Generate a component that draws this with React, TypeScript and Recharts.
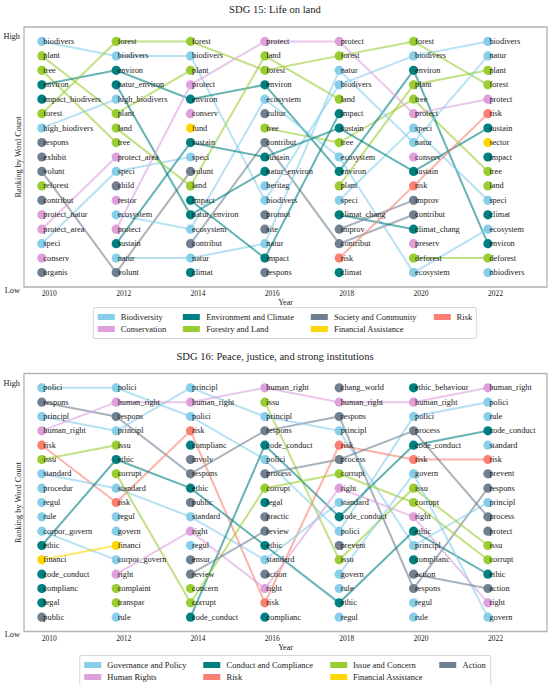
import { ScatterChart, Scatter, XAxis, YAxis, ReferenceArea } from "recharts";

const FONT = '"Liberation Serif", "Times New Roman", serif';

const YEARS = [2010, 2012, 2014, 2016, 2018, 2020, 2022];
const X_DOMAIN = [2009.52, 2023.59];
const RANK_TICKS = [0.68, 18];

// SDG 15
const SDG15_CATEGORIES = [
  "Biodiversity",
  "Conservation",
  "Environment and Climate",
  "Forestry and Land",
  "Society and Community",
  "Financial Assistance",
  "Risk",
];
const SDG15_COLORS = ["#87ceeb", "#dda0dd", "#008080", "#9acd32", "#708090", "#ffd700", "#fa8072"];
const SDG15_TERMS = [
  ["biodivers", "high_biodivers", "speci", "ecosystem", "natur", "heritag", "nbiodivers"],
  ["protect_natur", "protect_area", "conserv", "restor", "protect", "preserv"],
  ["environ", "impact_biodivers", "natur_environ", "sustain", "impact", "climat", "climat_chang"],
  ["plant", "tree", "forest", "reforest", "land", "deforest"],
  ["respons", "exhibit", "volunt", "contribut", "organis", "child", "cultur", "promot", "site", "improv"],
  ["fund", "sector"],
  ["risk"],
];
const SDG15_RANKING = [
  ["biodivers", "plant", "tree", "environ", "impact_biodivers", "forest", "high_biodivers", "respons", "exhibit", "volunt", "reforest", "contribut", "protect_natur", "protect_area", "speci", "conserv", "organis"],
  ["forest", "biodivers", "environ", "natur_environ", "high_biodivers", "plant", "land", "tree", "protect_area", "speci", "child", "restor", "ecosystem", "protect", "sustain", "natur", "volunt"],
  ["forest", "biodivers", "plant", "protect", "environ", "conserv", "fund", "sustain", "speci", "volunt", "land", "impact", "natur_environ", "ecosystem", "contribut", "natur", "climat"],
  ["protect", "land", "forest", "environ", "ecosystem", "cultur", "tree", "contribut", "sustain", "natur_environ", "heritag", "biodivers", "promot", "site", "natur", "impact", "respons"],
  ["protect", "forest", "natur", "biodivers", "land", "impact", "sustain", "tree", "ecosystem", "environ", "plant", "speci", "climat_chang", "improv", "contribut", "risk", "climat"],
  ["forest", "biodivers", "environ", "plant", "tree", "protect", "speci", "natur", "conserv", "sustain", "risk", "improv", "contribut", "climat_chang", "preserv", "deforest", "ecosystem"],
  ["biodivers", "natur", "plant", "forest", "protect", "risk", "sustain", "sector", "impact", "tree", "land", "speci", "climat", "ecosystem", "environ", "deforest", "nbiodivers"],
];
const SDG15_UNLINKED: string[] = [];

// SDG 16
const SDG16_CATEGORIES = [
  "Governance and Policy",
  "Human Rights",
  "Conduct and Compliance",
  "Risk",
  "Issue and Concern",
  "Financial Assistance",
  "Action",
];
const SDG16_COLORS = ["#87ceeb", "#dda0dd", "#008080", "#fa8072", "#9acd32", "#ffd700", "#708090"];
const SDG16_TERMS = [
  ["polici", "principl", "standard", "procedur", "regul", "rule", "corpor_govern", "govern"],
  ["human_right", "right"],
  ["ethic", "code_conduct", "complianc", "legal", "ethic_behaviour"],
  ["risk"],
  ["issu", "corrupt", "complaint", "transpar", "concern"],
  ["financi"],
  ["respons", "public", "involv", "ensur", "review", "process", "practic", "action", "chang_world", "prevent", "protect"],
];
const SDG16_RANKING = [
  ["polici", "respons", "principl", "human_right", "risk", "issu", "standard", "procedur", "regul", "rule", "corpor_govern", "ethic", "financi", "code_conduct", "complianc", "legal", "public"],
  ["polici", "human_right", "respons", "principl", "issu", "ethic", "corrupt", "standard", "risk", "regul", "govern", "financi", "corpor_govern", "right", "complaint", "transpar", "rule"],
  ["principl", "human_right", "polici", "risk", "complianc", "involv", "respons", "ethic", "public", "standard", "right", "regul", "ensur", "review", "concern", "corrupt", "code_conduct"],
  ["human_right", "issu", "principl", "respons", "code_conduct", "polici", "process", "corrupt", "legal", "practic", "review", "ethic", "standard", "action", "right", "risk", "complianc"],
  ["chang_world", "human_right", "respons", "principl", "risk", "process", "corrupt", "right", "standard", "code_conduct", "polici", "prevent", "issu", "govern", "rule", "ethic", "regul"],
  ["ethic_behaviour", "human_right", "polici", "process", "code_conduct", "risk", "govern", "issu", "corrupt", "right", "ethic", "principl", "complianc", "action", "respons", "regul", "rule"],
  ["human_right", "polici", "rule", "code_conduct", "standard", "risk", "prevent", "respons", "principl", "process", "protect", "issu", "corrupt", "ethic", "action", "right", "govern"],
];
const SDG16_UNLINKED = ["complianc", "regul", "rule"];

type Pt = { x: number; y: number; word?: string };

function buildDots(ranking: string[][], terms: string[][]) {
  return terms.map((list) => {
    const pts: Pt[] = [];
    ranking.forEach((col, i) =>
      col.forEach((word, r) => {
        if (list.includes(word)) pts.push({ x: YEARS[i], y: r + 1, word });
      })
    );
    return pts;
  });
}

function buildLinks(ranking: string[][], terms: string[][], unlinked: string[]) {
  const links: { word: string; ci: number; pts: Pt[] }[] = [];
  const words = Array.from(new Set(ranking.flat()));
  words.forEach((word) => {
    if (unlinked.includes(word)) return;
    const ci = terms.findIndex((l) => l.includes(word));
    let run: Pt[] = [];
    ranking.forEach((col, i) => {
      const r = col.indexOf(word);
      if (r >= 0) {
        run.push({ x: YEARS[i], y: r + 1 });
      } else {
        if (run.length > 1) links.push({ word, ci, pts: run });
        run = [];
      }
    });
    if (run.length > 1) links.push({ word, ci, pts: run });
  });
  return links;
}

const YearTick = (p: any) => (
  <text x={p.x + 7.5} y={p.y + 9} textAnchor="middle" fontSize={7.5} fontFamily={FONT} fill="#222">
    {p.payload.value}
  </text>
);

const RankTick = (p: any) => {
  const low = p.payload.value > 9;
  return (
    <text
      x={p.x - 4}
      y={p.y + (low ? 3 : 0)}
      textAnchor="end"
      dominantBaseline="central"
      fontSize={8.3}
      fontFamily={FONT}
      fill="#222"
    >
      {low ? "Low" : "High"}
    </text>
  );
};

const SideLabel = (p: any) => {
  const vb = p.viewBox;
  const x = vb.x + vb.width - 6;
  const y = vb.y + vb.height / 2;
  return (
    <text
      x={x}
      y={y}
      transform={`rotate(-90, ${x}, ${y})`}
      textAnchor="middle"
      dominantBaseline="central"
      fontSize={8.3}
      fontFamily={FONT}
      fill="#222"
    >
      Ranking by Word Count
    </text>
  );
};

const YearLabel = (p: any) => {
  const vb = p.viewBox;
  return (
    <text x={vb.x + vb.width / 2} y={vb.y + vb.height - 2} textAnchor="middle" fontSize={8} fontFamily={FONT} fill="#222">
      Year
    </text>
  );
};

function Legend({ top, categories, colors }: { top: number; categories: string[]; colors: string[] }) {
  return (
    <div
      style={{
        position: "absolute",
        top,
        left: 285,
        transform: "translateX(-50%)",
        display: "grid",
        gridTemplateRows: "repeat(2, 12px)",
        gridAutoFlow: "column",
        columnGap: 17,
        padding: "3px 4px",
        border: "1px solid #d6d6d6",
        borderRadius: 2,
        background: "#fff",
        fontFamily: FONT,
        fontSize: 8.5,
        color: "#222",
        whiteSpace: "nowrap",
      }}
    >
      {categories.map((c, i) => (
        <div key={c} style={{ display: "flex", alignItems: "center", gap: 6, lineHeight: "12px" }}>
          <span style={{ display: "inline-block", width: 17, height: 6, background: colors[i] }} />
          <span>{c}</span>
        </div>
      ))}
    </div>
  );
}

function Panel(props: {
  top: number;
  height: number;
  marginTop: number;
  ranking: string[][];
  terms: string[][];
  colors: string[];
  unlinked: string[];
}) {
  const { top, height, marginTop, ranking, terms, colors, unlinked } = props;
  const dots = buildDots(ranking, terms);
  const links = buildLinks(ranking, terms, unlinked);
  return (
    <div style={{ position: "absolute", left: 0, top, width: 550, height }}>
      <ScatterChart width={550} height={height} margin={{ top: marginTop, right: 3, bottom: 0, left: 0 }}>
        <XAxis
          type="number"
          dataKey="x"
          domain={X_DOMAIN}
          allowDataOverflow
          ticks={YEARS}
          interval={0}
          tick={YearTick}
          tickLine={false}
          axisLine={false}
          tickSize={0}
          tickMargin={0}
          height={20}
          label={{ content: YearLabel }}
        />
        <YAxis
          type="number"
          dataKey="y"
          domain={[0, 18]}
          reversed
          allowDataOverflow
          ticks={RANK_TICKS}
          interval={0}
          tick={RankTick}
          tickLine={false}
          axisLine={false}
          tickSize={0}
          tickMargin={0}
          width={24}
          label={{ content: SideLabel }}
        />
        <ReferenceArea
          x1={X_DOMAIN[0]}
          x2={X_DOMAIN[1]}
          y1={0}
          y2={18}
          fill="none"
          stroke="#b3b3b3"
          strokeWidth={1.3}
          ifOverflow="visible"
        />
        {links.map((l, i) => (
          <Scatter
            key={`link-${l.word}-${i}`}
            data={l.pts}
            fill={colors[l.ci]}
            line={{ stroke: colors[l.ci], strokeWidth: 2, strokeOpacity: 0.6 }}
            shape={() => <g />}
            isAnimationActive={false}
          />
        ))}
        {dots.map((pts, ci) => (
          <Scatter
            key={`dots-${ci}`}
            data={pts}
            fill={colors[ci]}
            isAnimationActive={false}
            shape={(p: any) => (
              <g>
                <circle cx={p.cx} cy={p.cy} r={4.6} fill={colors[ci]} />
                <text
                  x={p.cx + 1.5}
                  y={p.cy}
                  dominantBaseline="central"
                  fontSize={8.3}
                  fontFamily={FONT}
                  fill="#1a1a1a"
                >
                  {p.payload.word}
                </text>
              </g>
            )}
          />
        ))}
      </ScatterChart>
    </div>
  );
}

const titleStyle = (top: number): React.CSSProperties => ({
  position: "absolute",
  top,
  left: 0,
  width: 550,
  textAlign: "center",
  fontFamily: FONT,
  fontSize: 10.6,
  lineHeight: "12px",
  color: "#222",
});

export default function App() {
  return (
    <div style={{ position: "absolute", left: 0, top: 0, width: 550, height: 685, background: "#fff" }}>
      <div style={titleStyle(3.5)}>SDG 15: Life on land</div>
      <Panel
        top={0}
        height={307}
        marginTop={27}
        ranking={SDG15_RANKING}
        terms={SDG15_TERMS}
        colors={SDG15_COLORS}
        unlinked={SDG15_UNLINKED}
      />
      <Legend top={307} categories={SDG15_CATEGORIES} colors={SDG15_COLORS} />

      <div style={titleStyle(351)}>SDG 16: Peace, justice, and strong institutions</div>
      <Panel
        top={350}
        height={301.5}
        marginTop={23.5}
        ranking={SDG16_RANKING}
        terms={SDG16_TERMS}
        colors={SDG16_COLORS}
        unlinked={SDG16_UNLINKED}
      />
      <Legend top={655} categories={SDG16_CATEGORIES} colors={SDG16_COLORS} />
    </div>
  );
}
